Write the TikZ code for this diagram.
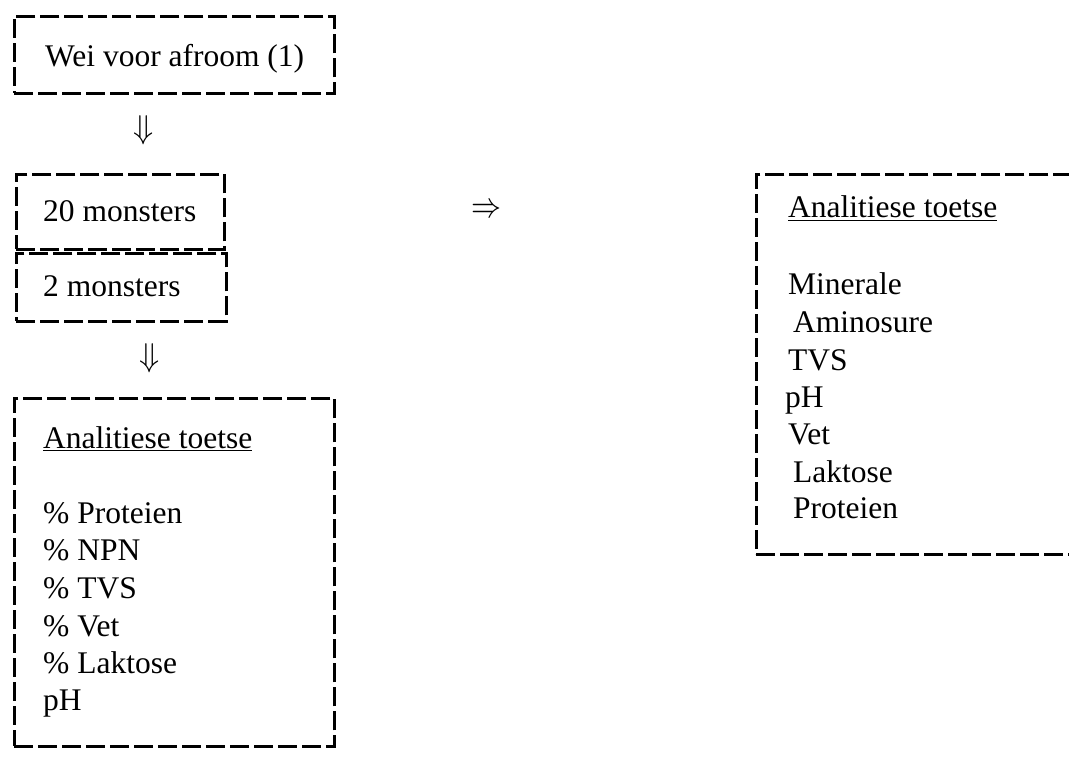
\documentclass[tikz,border=0pt]{standalone}
\usepackage{fontspec}
\setmainfont{Liberation Serif}
\begin{document}
\begin{tikzpicture}[x=1pt,y=-1pt,
  box/.style={draw, line width=2.6pt, dash pattern=on 19pt off 5pt, inner sep=0pt, anchor=north west},
  txt/.style={anchor=base west, inner sep=0pt, font=\fontsize{31.5}{37.5}\selectfont},
  arr/.style={inner sep=0pt}]
\useasboundingbox[fill=white] (0,0) rectangle (1069,759);
\clip (0,0) rectangle (1069,759);
% left column
\node[box, minimum width=320pt, minimum height=77pt] (b1) at (13,15) {};
\node[txt] (t1) at (45,67) {Wei voor afroom (1)};
\node[arr] (a1) at (144,130) {\scalebox{3.3}{$\Downarrow$}};
\node[box, minimum width=208pt, minimum height=75pt] (b2a) at (15,173) {};
\node[box, minimum width=210pt, minimum height=68pt] (b2b) at (15,252) {};
\node[txt] (t2a) at (43,222) {20 monsters};
\node[txt] (t2b) at (43,297) {2 monsters};
\node[arr] (a2) at (150,358) {\scalebox{3.3}{$\Downarrow$}};
\node[box, minimum width=320pt, minimum height=348pt] (b3) at (13,397) {};
\node[txt] (h3) at (43,448) {\underline{Analitiese toetse}};
\node[txt] (l1) at (43,523) {\% Proteien};
\node[txt] (l2) at (43,560) {\% NPN};
\node[txt] (l3) at (43,598) {\% TVS};
\node[txt] (l4) at (43,636) {\% Vet};
\node[txt] (l5) at (43,673) {\% Laktose};
\node[txt] (l6) at (43,710) {pH};
% middle arrow
\node[arr] (a3) at (486,211) {\scalebox{3}[3.6]{$\Rightarrow$}};
% right box
\node[box, minimum width=340pt, minimum height=380pt] (b4) at (755,173) {};
\node[txt] (h4) at (788,218) {\underline{Analitiese toetse}};
\node[txt] (r1) at (788,295) {Minerale};
\node[txt] (r2) at (793,333) {Aminosure};
\node[txt] (r3) at (788,371) {TVS};
\node[txt] (r4) at (785,407) {pH};
\node[txt] (r5) at (788,445) {Vet};
\node[txt] (r6) at (793,482) {Laktose};
\node[txt] (r7) at (793,518) {Proteien};
\end{tikzpicture}
\end{document}
